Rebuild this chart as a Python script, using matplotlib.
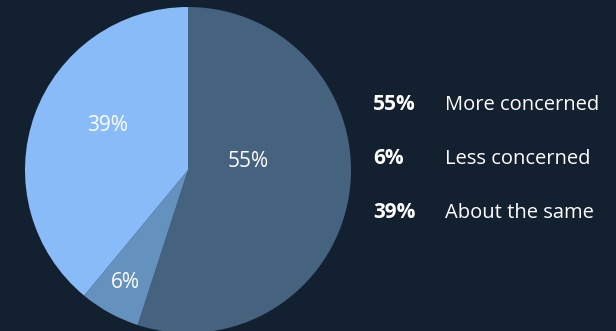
import numpy as np
import matplotlib.pyplot as plt

# share of respondents by change in concern
categories = ["More concerned", "Less concerned", "About the same"]
shares = [55, 6, 39]
colors = ["#45627f", "#6591bf", "#88bbf7"]

bg = "#13202f"
plt.rcParams['font.family'] = ['Open Sans', 'DejaVu Sans']

fig = plt.figure(figsize=(6.16, 3.31), dpi=100, facecolor=bg)
W, H = 616, 331

# pie: centre (188, 170) px, radius 163 px
cx, cy, r = 188, 170, 163
ax = fig.add_axes([(cx - r) / W, (H - cy - r) / H, 2 * r / W, 2 * r / H])
ax.set_facecolor(bg)
ax.pie(shares, colors=colors, startangle=90, counterclock=False,
       radius=1, wedgeprops=dict(linewidth=0))
ax.set_xlim(-1, 1)
ax.set_ylim(-1, 1)
ax.set_aspect('equal')
ax.axis('off')

# in-slice labels (pixel positions)
label_pos = [(248, 161), (125, 282), (108, 125)]
for v, (x, y) in zip(shares, label_pos):
    fig.text(x / W, 1 - y / H, f"{v}%", color="white", fontsize=15,
             ha="center", va="center")

# legend on the right
rows_y = [105, 159, 213]
for v, name, y in zip(shares, categories, rows_y):
    fig.text(373 / W, 1 - y / H, f"{v}%", color="white", fontsize=15,
             fontweight="bold", ha="left", va="center")
    fig.text(445 / W, 1 - y / H, name, color="white", fontsize=14.5,
             ha="left", va="center")

fig.savefig("out.png", dpi=100, facecolor=bg)
